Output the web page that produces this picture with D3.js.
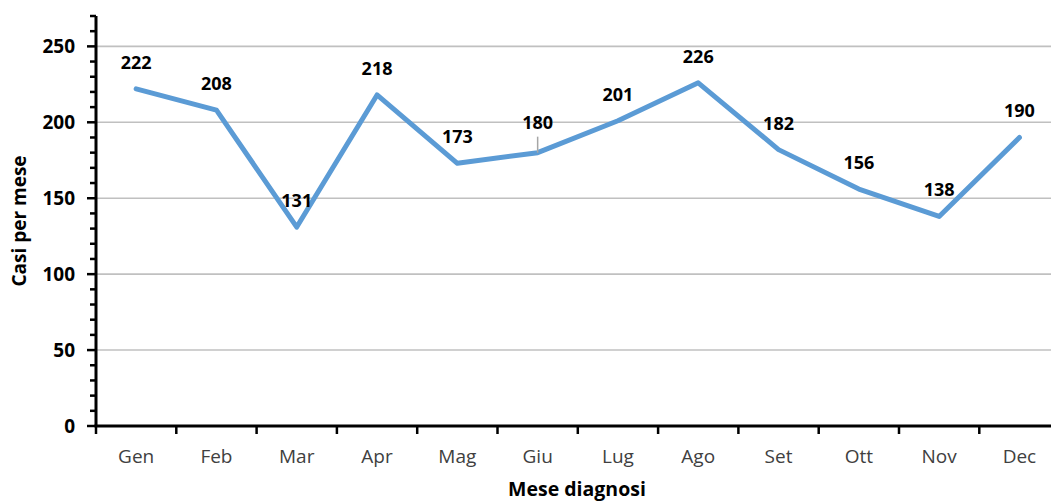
<!DOCTYPE html>
<html>
<head>
<meta charset="utf-8">
<script src="https://cdn.jsdelivr.net/npm/d3@7"></script>
<style>
    body { margin: 0; background: #fff; }
    svg { display: block; font-family: "Open Sans", "Noto Sans", sans-serif; }
</style>
</head>
<body>
<svg id="chart" width="1051" height="502"></svg>
<script>
// Dati del grafico
const months = ['Gen', 'Feb', 'Mar', 'Apr', 'Mag', 'Giu', 'Lug', 'Ago', 'Set', 'Ott', 'Nov', 'Dec'];
const casesPerMonth = [222, 208, 131, 218, 173, 180, 201, 226, 182, 156, 138, 190];
const yTicks = [0, 50, 100, 150, 200, 250];

const width = 1051;
const height = 502;
const plotLeft = 96, plotTop = 16, plotBottom = 426;
const plotRight = plotLeft + months.length * 80.3; // area goes past the window edge

const svg = d3.select('#chart');

const x = d3.scaleBand()
    .domain(months)
    .range([plotLeft, plotRight]);

const y = d3.scaleLinear()
    .domain([0, 270])
    .range([plotBottom, plotTop]);

// gridlines
svg.append('g')
    .selectAll('line')
    .data(yTicks.filter(d => d > 0))
    .enter()
    .append('line')
    .attr('x1', plotLeft)
    .attr('x2', width)
    .attr('y1', d => y(d))
    .attr('y2', d => y(d))
    .attr('stroke', '#c0c0c0')
    .attr('stroke-width', 1.6);

// line series
const line = d3.line()
    .x((d, i) => x(months[i]) + x.bandwidth() / 2)
    .y(d => y(d));

svg.append('path')
    .datum(casesPerMonth)
    .attr('fill', 'none')
    .attr('stroke', '#5b9bd5')
    .attr('stroke-width', 5)
    .attr('stroke-linejoin', 'round')
    .attr('stroke-linecap', 'round')
    .attr('d', line);

// y axis: minor ticks every 10, major every 50
const yAxis = svg.append('g');
yAxis.append('line')
    .attr('x1', plotLeft).attr('x2', plotLeft)
    .attr('y1', y(270)).attr('y2', plotBottom)
    .attr('stroke', '#000').attr('stroke-width', 3);

yAxis.selectAll('.minor')
    .data(d3.range(0, 271, 10))
    .enter()
    .append('line')
    .attr('x1', d => d % 50 === 0 ? plotLeft - 9 : plotLeft - 6)
    .attr('x2', plotLeft)
    .attr('y1', d => y(d))
    .attr('y2', d => y(d))
    .attr('stroke', '#000')
    .attr('stroke-width', 2.5);

yAxis.selectAll('text')
    .data(yTicks)
    .enter()
    .append('text')
    .attr('x', 75)
    .attr('y', d => y(d))
    .attr('dy', '0.36em')
    .attr('text-anchor', 'end')
    .attr('font-size', 19)
    .attr('font-weight', 'bold')
    .attr('fill', '#000')
    .text(d => d);

// x axis
const xAxis = svg.append('g');
xAxis.append('line')
    .attr('x1', plotLeft - 1.5).attr('x2', width)
    .attr('y1', plotBottom).attr('y2', plotBottom)
    .attr('stroke', '#000').attr('stroke-width', 3);

xAxis.selectAll('.tick')
    .data(months)
    .enter()
    .append('line')
    .attr('x1', d => x(d))
    .attr('x2', d => x(d))
    .attr('y1', plotBottom)
    .attr('y2', plotBottom + 8)
    .attr('stroke', '#000')
    .attr('stroke-width', 2.5);

xAxis.selectAll('text')
    .data(months)
    .enter()
    .append('text')
    .attr('x', d => x(d) + x.bandwidth() / 2)
    .attr('y', 463)
    .attr('text-anchor', 'middle')
    .attr('font-size', 19)
    .attr('fill', '#404040')
    .text(d => d);

// data labels (Giu is pushed up a bit with a leader line, like in Excel)
const labels = svg.append('g');
casesPerMonth.forEach((v, i) => {
    const cx = x(months[i]) + x.bandwidth() / 2;
    const cy = y(v);
    const shift = months[i] === 'Giu' ? 4 : 0;
    if (shift) {
        labels.append('line')
            .attr('x1', cx).attr('x2', cx)
            .attr('y1', cy - 16).attr('y2', cy)
            .attr('stroke', '#a6a6a6')
            .attr('stroke-width', 1.5);
    }
    labels.append('text')
        .attr('x', cx)
        .attr('y', cy - 20 - shift)
        .attr('text-anchor', 'middle')
        .attr('font-size', 18)
        .attr('font-weight', 'bold')
        .attr('fill', '#000')
        .text(v);
});

// axis titles
svg.append('text')
    .attr('x', 577)
    .attr('y', 496)
    .attr('text-anchor', 'middle')
    .attr('font-size', 19.5)
    .attr('font-weight', 'bold')
    .text('Mese diagnosi');

svg.append('text')
    .attr('transform', 'translate(26,221) rotate(-90)')
    .attr('text-anchor', 'middle')
    .attr('font-size', 19)
    .attr('font-weight', 'bold')
    .text('Casi per mese');
</script>
</body>
</html>
